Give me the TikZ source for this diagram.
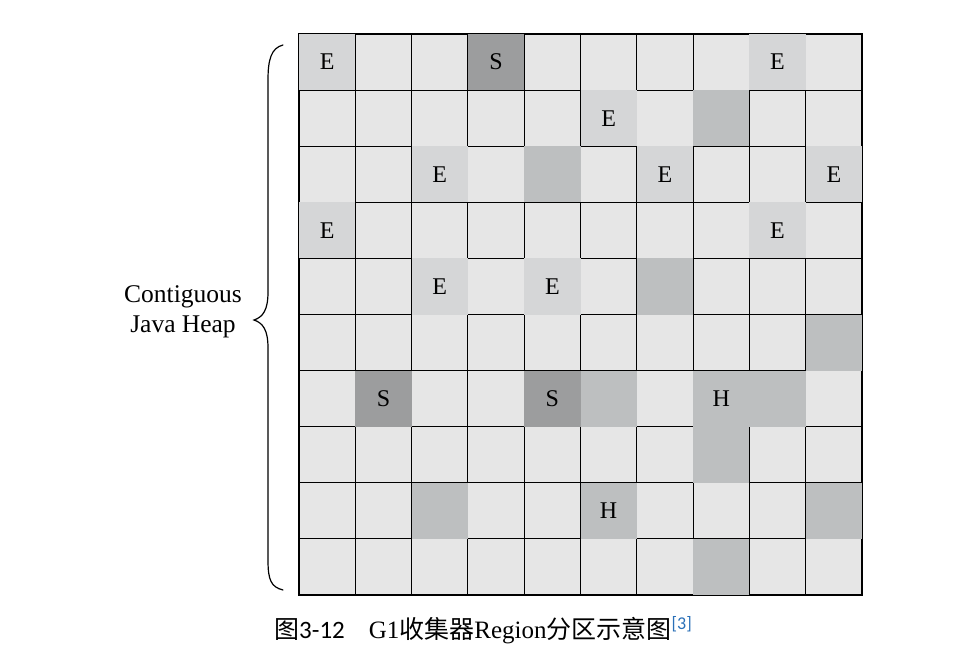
\documentclass[tikz,border=0pt]{standalone}
\usepackage{fontspec}
\setmainfont{Liberation Serif}
\newfontfamily\cjk{Noto Sans CJK SC}
\newfontfamily\capsans{Carlito}
\definecolor{basecol}{HTML}{E6E6E6}
\definecolor{ecol}{HTML}{D5D6D7}
\definecolor{medcol}{HTML}{BDBFC0}
\definecolor{darkcol}{HTML}{9C9D9E}
\definecolor{capblue}{HTML}{2A70B8}
\begin{document}
\begin{tikzpicture}[x=1pt,y=-1pt,
  cellbox/.style={draw=black,line width=1.1pt,fill=basecol,minimum width=56.3pt,minimum height=56.1pt,inner sep=0pt},
  shade/.style={minimum width=56.3pt,minimum height=56.1pt,inner sep=0pt,font=\fontsize{24}{24}\selectfont},
  ecell/.style={shade,fill=ecol},
  mcell/.style={shade,fill=medcol},
  scell/.style={shade,fill=darkcol},
  bracestyle/.style={line width=1.2pt,line cap=round}]
\useasboundingbox (0,0) rectangle (966,664);
\fill[white] (0,0) rectangle (966,664);
\foreach \r in {0,...,9}{
  \foreach \c in {0,...,9}{
    \node[cellbox] (c\r\c) at ({299+56.3*(\c+0.5)},{34+56.1*(\r+0.5)}) {};
  }
}
% Eden regions
\foreach \rc in {00,08,15,22,26,29,30,38,42,44}{
  \node[ecell] (e\rc) at (c\rc.center) {E};
}
% Survivor regions
\foreach \rc in {03,61,64}{
  \node[scell] (s\rc) at (c\rc.center) {S};
}
% Humongous regions
\foreach \rc in {67,85}{
  \node[mcell] (h\rc) at (c\rc.center) {H};
}
% Old regions
\foreach \rc in {17,24,46,59,65,68,77,82,89,97}{
  \node[mcell] (o\rc) at (c\rc.center) {};
}
% label and brace
\node[font=\fontsize{25.5}{30}\selectfont,align=center] (lbl) at (183,312) {Contiguous\\Java Heap};
\coordinate (btop) at (283,45);
\coordinate (btip) at (254,320);
\coordinate (bbot) at (283,590);
\draw[bracestyle] (btop) .. controls (271,48) and (268,60) .. (268,80) -- (268,292)
  .. controls (268,310) and (263,317) .. (btip)
  .. controls (263,323) and (268,330) .. (268,348) -- (268,560)
  .. controls (268,580) and (271,587) .. (bbot);
% caption
\node[anchor=west,inner sep=0pt,font=\fontsize{25}{27}\selectfont] (cap) at (274,630)
  {{\cjk 图}{\capsans 3-12}\hspace{24pt}G1{\cjk 收集器}Region{\cjk 分区示意图}\raisebox{9pt}{\fontsize{18}{18}\selectfont\capsans\color{capblue}[3]}};
\end{tikzpicture}
\end{document}
